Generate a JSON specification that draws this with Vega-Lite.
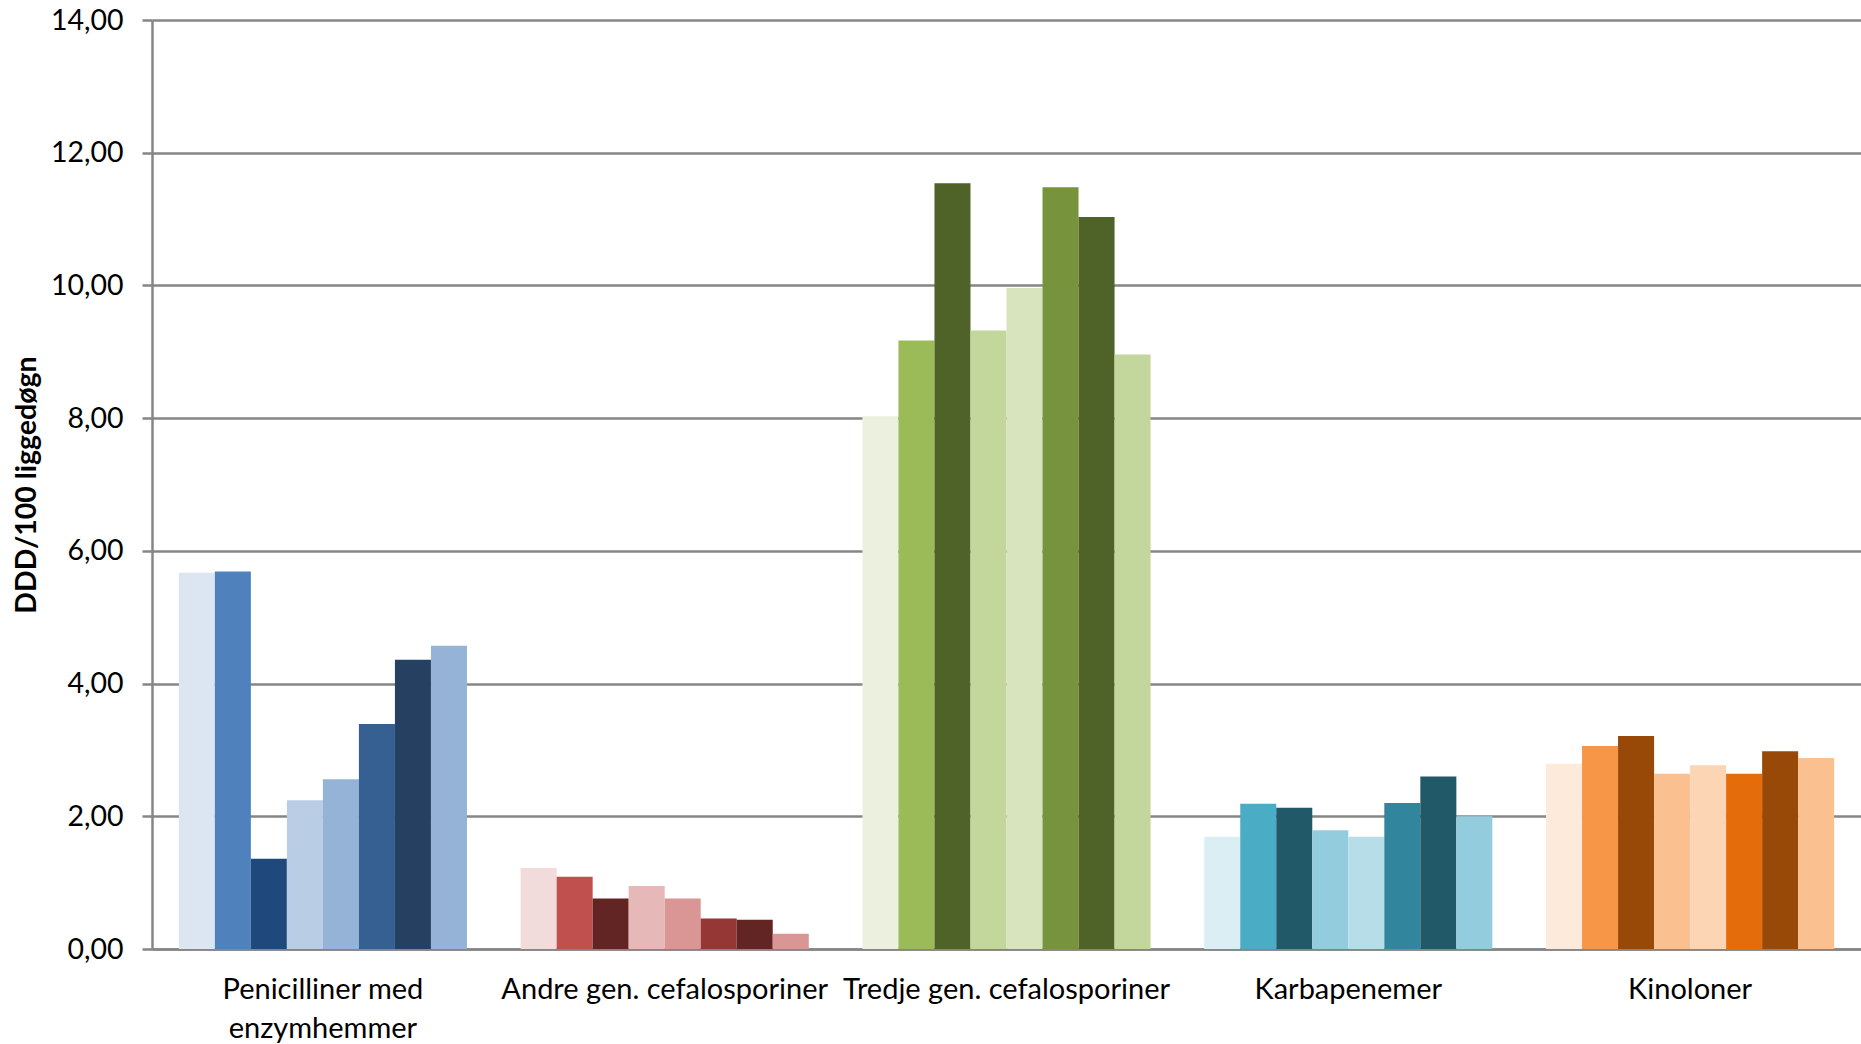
{
  "$schema": "https://vega.github.io/schema/vega-lite/v6.json",
  "width": 1709,
  "height": 929,
  "autosize": {"type": "none"},
  "padding": {"left": 152, "top": 20, "right": 0, "bottom": 95},
  "background": "white",
  "data": {
    "values": [
      {"kat": "Penicilliner med enzymhemmer", "s": "1", "v": 5.67},
      {"kat": "Penicilliner med enzymhemmer", "s": "2", "v": 5.69},
      {"kat": "Penicilliner med enzymhemmer", "s": "3", "v": 1.36},
      {"kat": "Penicilliner med enzymhemmer", "s": "4", "v": 2.24},
      {"kat": "Penicilliner med enzymhemmer", "s": "5", "v": 2.56},
      {"kat": "Penicilliner med enzymhemmer", "s": "6", "v": 3.39},
      {"kat": "Penicilliner med enzymhemmer", "s": "7", "v": 4.36},
      {"kat": "Penicilliner med enzymhemmer", "s": "8", "v": 4.57},
      {"kat": "Andre gen. cefalosporiner", "s": "1", "v": 1.22},
      {"kat": "Andre gen. cefalosporiner", "s": "2", "v": 1.09},
      {"kat": "Andre gen. cefalosporiner", "s": "3", "v": 0.76},
      {"kat": "Andre gen. cefalosporiner", "s": "4", "v": 0.95},
      {"kat": "Andre gen. cefalosporiner", "s": "5", "v": 0.76},
      {"kat": "Andre gen. cefalosporiner", "s": "6", "v": 0.46},
      {"kat": "Andre gen. cefalosporiner", "s": "7", "v": 0.44},
      {"kat": "Andre gen. cefalosporiner", "s": "8", "v": 0.23},
      {"kat": "Tredje gen. cefalosporiner", "s": "1", "v": 8.03},
      {"kat": "Tredje gen. cefalosporiner", "s": "2", "v": 9.17},
      {"kat": "Tredje gen. cefalosporiner", "s": "3", "v": 11.54},
      {"kat": "Tredje gen. cefalosporiner", "s": "4", "v": 9.32},
      {"kat": "Tredje gen. cefalosporiner", "s": "5", "v": 9.96},
      {"kat": "Tredje gen. cefalosporiner", "s": "6", "v": 11.48},
      {"kat": "Tredje gen. cefalosporiner", "s": "7", "v": 11.03},
      {"kat": "Tredje gen. cefalosporiner", "s": "8", "v": 8.96},
      {"kat": "Karbapenemer", "s": "1", "v": 1.69},
      {"kat": "Karbapenemer", "s": "2", "v": 2.19},
      {"kat": "Karbapenemer", "s": "3", "v": 2.13},
      {"kat": "Karbapenemer", "s": "4", "v": 1.79},
      {"kat": "Karbapenemer", "s": "5", "v": 1.69},
      {"kat": "Karbapenemer", "s": "6", "v": 2.2},
      {"kat": "Karbapenemer", "s": "7", "v": 2.6},
      {"kat": "Karbapenemer", "s": "8", "v": 2.0},
      {"kat": "Kinoloner", "s": "1", "v": 2.79},
      {"kat": "Kinoloner", "s": "2", "v": 3.06},
      {"kat": "Kinoloner", "s": "3", "v": 3.21},
      {"kat": "Kinoloner", "s": "4", "v": 2.64},
      {"kat": "Kinoloner", "s": "5", "v": 2.77},
      {"kat": "Kinoloner", "s": "6", "v": 2.64},
      {"kat": "Kinoloner", "s": "7", "v": 2.98},
      {"kat": "Kinoloner", "s": "8", "v": 2.88}
    ]
  },
  "transform": [{"calculate": "datum.kat + '|' + datum.s", "as": "k"}],
  "mark": {"type": "bar"},
  "encoding": {
    "x": {
      "field": "kat",
      "type": "nominal",
      "sort": null,
      "scale": {"paddingInner": 0.157, "paddingOuter": 0.0785},
      "axis": {
        "title": null,
        "labelAngle": 0,
        "ticks": false,
        "labelPadding": 26,
        "labelFont": "Lato",
        "labelFontSize": 29,
        "labelColor": "#000000",
        "labelLimit": 0,
        "labelLineHeight": 39,
        "labelExpr": "datum.label == 'Penicilliner med enzymhemmer' ? ['Penicilliner med', 'enzymhemmer'] : datum.label",
        "domainColor": "#868686",
        "domainWidth": 2.5,
        "grid": false
      }
    },
    "xOffset": {
      "field": "s",
      "type": "nominal",
      "scale": {"paddingInner": 0, "paddingOuter": 0}
    },
    "y": {
      "field": "v",
      "type": "quantitative",
      "scale": {"domain": [0, 14], "nice": false},
      "axis": {
        "values": [0, 2, 4, 6, 8, 10, 12, 14],
        "labelExpr": "replace(format(datum.value, '.2f'), '.', ',')",
        "title": "DDD/100 liggedøgn",
        "titleFont": "Lato",
        "titleFontSize": 28.5,
        "titleFontWeight": "bold",
        "titleColor": "#000000",
        "titleX": -126,
        "titleY": 464.5,
        "titleAngle": -90,
        "titleBaseline": "middle",
        "titleAlign": "center",
        "labelFont": "Lato",
        "labelFontSize": 28.5,
        "labelColor": "#000000",
        "labelPadding": 19,
        "tickSize": 10,
        "tickColor": "#868686",
        "tickWidth": 2.5,
        "domainColor": "#868686",
        "domainWidth": 2.5,
        "gridColor": "#868686",
        "gridWidth": 2.5
      }
    },
    "color": {
      "field": "k",
      "type": "nominal",
      "legend": null,
      "scale": {
        "domain": [
          "Penicilliner med enzymhemmer|1", "Penicilliner med enzymhemmer|2", "Penicilliner med enzymhemmer|3", "Penicilliner med enzymhemmer|4", "Penicilliner med enzymhemmer|5", "Penicilliner med enzymhemmer|6", "Penicilliner med enzymhemmer|7", "Penicilliner med enzymhemmer|8",
          "Andre gen. cefalosporiner|1", "Andre gen. cefalosporiner|2", "Andre gen. cefalosporiner|3", "Andre gen. cefalosporiner|4", "Andre gen. cefalosporiner|5", "Andre gen. cefalosporiner|6", "Andre gen. cefalosporiner|7", "Andre gen. cefalosporiner|8",
          "Tredje gen. cefalosporiner|1", "Tredje gen. cefalosporiner|2", "Tredje gen. cefalosporiner|3", "Tredje gen. cefalosporiner|4", "Tredje gen. cefalosporiner|5", "Tredje gen. cefalosporiner|6", "Tredje gen. cefalosporiner|7", "Tredje gen. cefalosporiner|8",
          "Karbapenemer|1", "Karbapenemer|2", "Karbapenemer|3", "Karbapenemer|4", "Karbapenemer|5", "Karbapenemer|6", "Karbapenemer|7", "Karbapenemer|8",
          "Kinoloner|1", "Kinoloner|2", "Kinoloner|3", "Kinoloner|4", "Kinoloner|5", "Kinoloner|6", "Kinoloner|7", "Kinoloner|8"
        ],
        "range": [
          "#DCE6F2", "#4F81BD", "#1F497D", "#B9CDE5", "#95B3D7", "#376092", "#254061", "#95B3D7",
          "#F2DCDB", "#C0504D", "#632523", "#E6B9B8", "#D99694", "#953735", "#632523", "#D99694",
          "#EBF1DE", "#9BBB59", "#4F6228", "#C3D69B", "#D7E4BD", "#77933C", "#4F6228", "#C3D69B",
          "#DBEEF4", "#4BACC6", "#215968", "#93CDDD", "#B7DEE8", "#31859C", "#215968", "#93CDDD",
          "#FDEADA", "#F79646", "#984807", "#FAC090", "#FCD5B5", "#E46C0A", "#984807", "#FAC090"
        ]
      }
    }
  },
  "config": {
    "view": {"stroke": null},
    "axis": {"gridCap": "butt"}
  }
}
